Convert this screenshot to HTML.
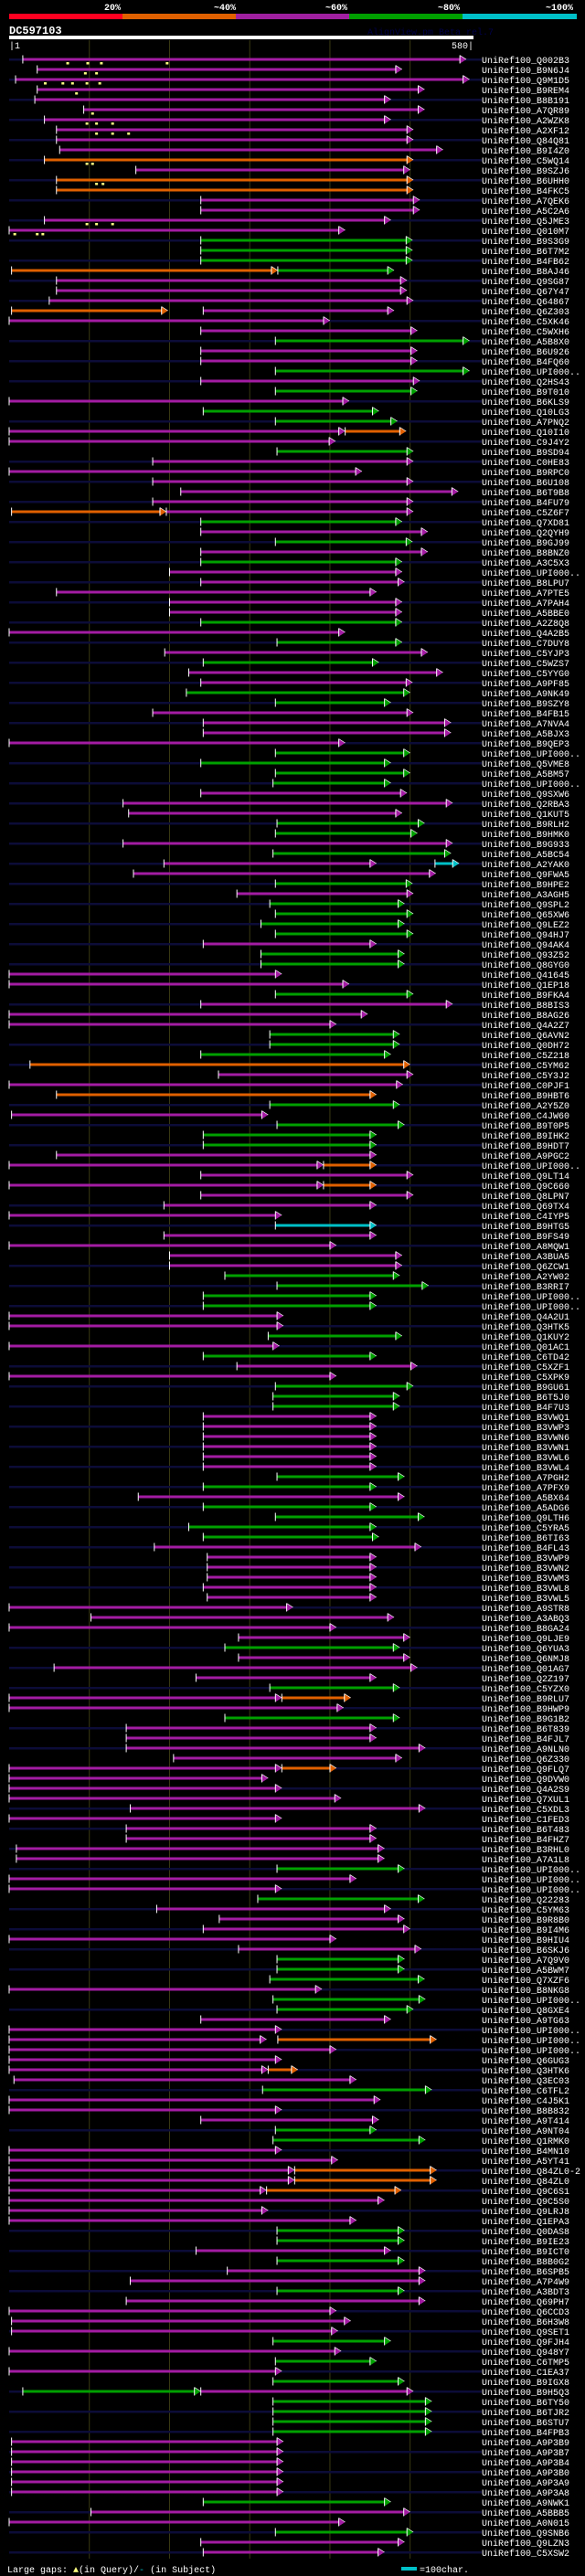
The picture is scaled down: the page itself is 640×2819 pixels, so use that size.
<!DOCTYPE html>
<html><head><meta charset="utf-8"><style>
html,body{margin:0;padding:0;background:#000;}
svg{display:block;}
text{font-family:"Liberation Mono",monospace;}
</style></head>
<body>
<svg id="chart" width="640" height="2819" viewBox="0 0 640 2819" xmlns="http://www.w3.org/2000/svg">
<rect x="0" y="0" width="640" height="2819" fill="#000"/>
<g>
<rect x="10" y="15" width="124" height="6" fill="#ff0020"/>
<rect x="134" y="15" width="124" height="6" fill="#e06000"/>
<rect x="258" y="15" width="124" height="6" fill="#a020a0"/>
<rect x="382" y="15" width="124" height="6" fill="#00a000"/>
<rect x="506" y="15" width="125" height="6" fill="#00c0c8"/>
<text x="123" y="11" fill="#fff" font-size="10" font-weight="bold" text-anchor="middle">20%</text>
<text x="246" y="11" fill="#fff" font-size="10" font-weight="bold" text-anchor="middle">~40%</text>
<text x="368" y="11" fill="#fff" font-size="10" font-weight="bold" text-anchor="middle">~60%</text>
<text x="491" y="11" fill="#fff" font-size="10" font-weight="bold" text-anchor="middle">~80%</text>
<text x="612" y="11" fill="#fff" font-size="10" font-weight="bold" text-anchor="middle">~100%</text>
</g>
<text x="10" y="37" fill="#fff" font-size="12" font-weight="bold">DC597103</text>
<text x="402" y="38" fill="#000048" font-size="10">AlignView.pm Beta rel.7</text>
<rect x="10" y="39" width="508" height="4" fill="#fff"/>
<text x="10" y="53" fill="#fff" font-size="10">|1</text>
<text x="518" y="53" fill="#fff" font-size="10" text-anchor="end">580|</text>
<g id="grid"></g>
<g id="rows"></g>
<g>
<text x="8" y="2815" fill="#fff" font-size="10">Large gaps: <tspan fill="#ffff80">▲</tspan>(in Query)/<tspan fill="#00c0c8">-</tspan> (in Subject)</text>
<rect x="439" y="2809" width="17" height="4" fill="#00c0c8"/>
<text x="459" y="2815" fill="#fff" font-size="10">=100char.</text>
</g>
</svg>
<script>
const labels=["Q002B3","B9N6J4","Q9M1D5","B9REM4","B8B191","A7QR89","A2WZK8","A2XF12","Q84Q81","B9I4Z0","C5WQ14","B9SZJ6","B6UHH0","B4FKC5","A7QEK6","A5C2A6","Q5JME3","Q010M7","B9S3G9","B6T7M2","B4FB62","B8AJ46","Q9SG87","Q67Y47","Q64867","Q6Z303","C5XK46","C5WXH6","A5B8X0","B6U926","B4FQ60",
"UPI000..","Q2HS43","B9T010","B6KLS9","Q10LG3","A7PNQ2","Q10I10","C9J4Y2","B9SD94","C0HE83","B9RPC0","B6U108","B6T9B8","B4FU79","C5Z6F7","Q7XD81","Q2QYH9","B9GJ99","B8BNZ0","A3C5X3","UPI000..","B8LPU7","A7PTE5","A7PAH4","A5BBE0","A2Z8Q8","Q4A2B5","C7DUY8","C5YJP3","C5WZS7","C5YYG0",
"A9PF85","A9NK49","B9SZY8","B4FB15","A7NVA4","A5BJX3","B9QEP3","UPI000..","Q5VME8","A5BM57","UPI000..","Q9SXW6","Q2RBA3","Q1KUT5","B9RLH2","B9HMK0","B9G933","A5BC54","A2YAK0","Q9FWA5","B9HPE2","A3AGH5","Q9SPL2","Q65XW6","Q9LEZ2","Q94HJ7","Q94AK4","Q93Z52","Q8GYG0","Q41645","Q1EP18","B9FKA4",
"B8BIS3","B8AG26","Q4A2Z7","Q6AVN2","Q0DH72","C5Z218","C5YM62","C5Y3J2","C0PJF1","B9HBT6","A2Y5Z0","C4JW60","B9T0P5","B9IHK2","B9HDT7","A9PGC2","UPI000..","Q9LT14","Q9C660","Q8LPN7","Q69TX4","C4IYP5","B9HTG5","B9FS49","A8MQW1","A3BUA5","Q6ZCW1","A2YW02","B3RRI7","UPI000..","UPI000..",
"Q4A2U1","Q3HTK5","Q1KUY2","Q01AC1","C6TD42","C5XZF1","C5XPK9","B9GU61","B6T5J0","B4F7U3","B3VWQ1","B3VWP3","B3VWN6","B3VWN1","B3VWL6","B3VWL4","A7PGH2","A7PFX9","A5BX64","A5ADG6","Q9LTH6","C5YRA5","B6TI63","B4FL43","B3VWP9","B3VWN2","B3VWM3","B3VWL8","B3VWL5","A9STR8","A3ABQ3","B8GA24",
"Q9LJE9","Q6YUA3","Q6NMJ8","Q01AG7","Q2Z197","C5YZX0","B9RLU7","B9HWP9","B9G1B2","B6T839","B4FJL7","A9NLN0","Q6Z330","Q9FLQ7","Q9DVW0","Q4A2S9","Q7XUL1","C5XDL3","C1FED3","B6T483","B4FHZ7","B3RHL0","A7A1L8","UPI000..","UPI000..","UPI000..","Q22283","C5YM63","B9R8B0","B9I4M6","B9HIU4",
"B6SKJ6","A7Q9V0","A5BWM7","Q7XZF6","B8NKG8","UPI000..","Q8GXE4","A9TG63","UPI000..","UPI000..","UPI000..","Q6GUG3","Q3HTK6","Q3EC03","C6TFL2","C4J5K1","B8B832","A9T414","A9NT04","Q1RMK0","B4MN10","A5YT41","Q84ZL0-2","Q84ZL0","Q9C6S1","Q9C5S0","Q9LRJ8","Q1EPA3","Q0DAS8","B9IE23","B9ICT0","B8B0G2",
"B6SPB5","A7P4W9","A3BDT3","Q69PH7","Q6CCD3","B6H3W8","Q9SET1","Q9FJH4","Q948Y7","C6TMP5","C1EA37","B9IGX8","B9H5Q3","B6TY50","B6TJR2","B6STU7","B4FPB3","A9P3B9","A9P3B7","A9P3B4","A9P3B0","A9P3A9","A9P3A8","A9NWK1","A5BBB5","A0N015","Q9SNB6","Q9LZN3","C5XSW2"];
const qStart=[18,36,9,36,33,94,45,60,60,64,45,159,60,60,240,240,45,1,240,240,240,4,60,60,51,4,1,240,333,240,240,
333,240,333,1,243,333,1,1,335,180,1,180,215,180,4,240,240,333,240,240,201,240,60,201,201,240,1,335,195,243,225,
240,222,333,180,243,243,1,333,240,333,330,240,143,150,335,333,143,330,194,156,333,285,326,333,315,333,243,315,315,1,1,333,
240,1,1,326,326,240,27,262,1,60,326,4,335,243,243,60,1,240,1,240,194,1,333,194,1,201,201,270,335,243,243,
1,1,324,1,243,285,1,333,330,330,243,243,243,243,243,243,335,243,162,243,333,225,243,182,248,248,248,243,248,1,103,1,
287,270,287,57,234,326,1,1,270,147,147,147,206,1,1,1,1,152,1,147,147,10,10,335,1,1,311,185,263,243,1,
287,335,335,326,1,330,335,240,1,1,1,1,1,7,317,1,1,240,333,330,1,1,1,1,1,1,1,1,335,335,234,335,
273,152,335,147,1,4,4,330,1,333,1,330,18,330,330,330,330,4,4,4,4,4,4,243,103,1,333,240,243];
const qEnd=[571,491,575,519,477,519,477,505,505,542,505,501,505,505,513,513,477,420,504,504,504,336,497,497,505,199,401,510,575,510,510,
575,513,510,425,462,485,420,408,505,505,441,505,561,505,197,491,523,504,523,491,491,494,459,491,491,491,420,491,523,462,542,
504,501,477,505,552,552,420,501,477,501,477,497,554,491,519,510,554,552,459,533,504,505,494,505,494,505,459,494,494,341,425,505,
554,448,409,488,488,477,501,505,492,459,488,324,494,459,459,459,393,505,393,505,459,341,459,459,409,491,491,488,524,459,459,
343,343,491,338,459,510,409,505,488,488,459,459,459,459,459,459,494,459,494,459,519,459,462,515,459,459,459,459,459,355,481,409,
501,488,501,510,459,488,341,418,488,459,459,520,491,341,324,341,415,520,341,459,459,469,469,494,434,341,519,477,494,501,409,
515,494,494,519,391,520,505,477,341,322,409,341,324,434,528,464,341,462,459,520,341,411,357,357,322,469,324,434,494,494,477,494,
520,520,494,520,409,427,411,477,415,459,341,494,240,528,528,528,528,343,343,343,343,343,343,477,501,420,505,494,469];
const kindGroups=["mmmmmmmmmmomoommmmgggommmommgmm",
"gmgmggmmgmmmmmogmgmgmmmmmgmgmgm",
"mggmmmmggggmmmggmgmmgmggggmggmmg",
"mmmgggommogmgggmmmmmmmcmmmmgggg",
"mmgmgmmgggmmmmmmggmggggmmmmmmmmm",
"mgmmmgmmgmmmmmmmmmmmmmmgmmgmmmm",
"mgggmggmmmmmmmgmmmggmmmmmmmmggmg",
"mmgmmmmgmgmggggggmmmmmmgmmgmm"];
const kind=kindGroups.join("");
const extraRow=[22,26,38,46,81,111,113,164,171,198,201,211,212,213,233];
const extraStart=[336,243,420,197,532,393,393,341,341,336,324,357,357,322,240];
const extraEnd=[481,481,496,505,562,459,459,427,409,534,361,534,534,490,505];
const extraKind="gmomcooooooooom";
const gapRow=[1,1,1,1,2,2,3,3,3,3,3,4,6,7,7,7,8,8,8,11,11,13,13,17,17,17,18,18,18];
const gapQ=[74,99,116,198,96,110,46,68,80,98,114,85,105,98,110,130,110,130,150,98,105,110,118,98,110,130,8,36,43];
</script>
<script>
const COL={m:"#a31ca3",o:"#e06000",g:"#00a000",c:"#00c0c8"};
const svgNS="http://www.w3.org/2000/svg";
const xs=q=>10+(q-1)*508/579;
const rowY=i=>65+11*i;
function mk(tag,attrs,parent){const e=document.createElementNS(svgNS,tag);for(const k in attrs)e.setAttribute(k,attrs[k]);parent.appendChild(e);return e;}
const grid=document.getElementById('grid');
[101,201,301,401,501].forEach(q=>{
  const l=mk('line',{x1:xs(q),x2:xs(q),y1:44,y2:2800,stroke:'#3a3a12','stroke-width':1},grid);
  
  
});
const rows=document.getElementById('rows');
function bar(g,s,e,k,cy){
  const x0=xs(s),x1=xs(e);
  mk('rect',{x:x0,y:cy-1.5,width:Math.max(0,x1-x0-6),height:3,fill:COL[k]},g);
  mk('polygon',{points:(x1-7)+','+(cy-4.5)+' '+x1+','+cy+' '+(x1-7)+','+(cy+4.5),fill:COL[k]},g);
  mk('line',{x1:x1-7,x2:x1-7,y1:cy-4.5,y2:cy+4.5,stroke:'#fff','stroke-width':1},g);
  mk('line',{x1:x1-7,x2:x1,y1:cy-4.5,y2:cy,stroke:'#fff','stroke-width':0.7},g);
}
for(let i=0;i<labels.length;i++){
  const cy=rowY(i);
  const g=mk('g',{},rows);
  
  
  if(i%2===0) mk('rect',{x:10,y:cy-1,width:517,height:2.5,fill:'#0c0c38'},g);
  bar(g,qStart[i],qEnd[i],kind[i]||'m',cy);
  mk('line',{x1:xs(qStart[i]),x2:xs(qStart[i]),y1:cy-4.5,y2:cy+4.5,stroke:'#fff','stroke-width':1},g);
  const t=mk('text',{x:527,y:cy+4,fill:'#fff','font-size':10},g);
  t.textContent='UniRef100_'+labels[i];
  
  
}
for(let j=0;j<extraRow.length;j++){
  const i=extraRow[j]-1,cy=rowY(i);
  const g=mk('g',{},rows);
  
  
  bar(g,extraStart[j],extraEnd[j],extraKind[j],cy);
  mk('line',{x1:xs(extraStart[j]),x2:xs(extraStart[j]),y1:cy-4.5,y2:cy+4.5,stroke:'#fff','stroke-width':1},g);
}
for(let j=0;j<gapRow.length;j++){
  const cy=rowY(gapRow[j]-1),x=xs(gapQ[j]);
  const r=mk('rect',{x:x-1.5,y:cy+3,width:3,height:2.5,fill:'#ffff80'},rows);
  
  
}
</script>
</body></html>
